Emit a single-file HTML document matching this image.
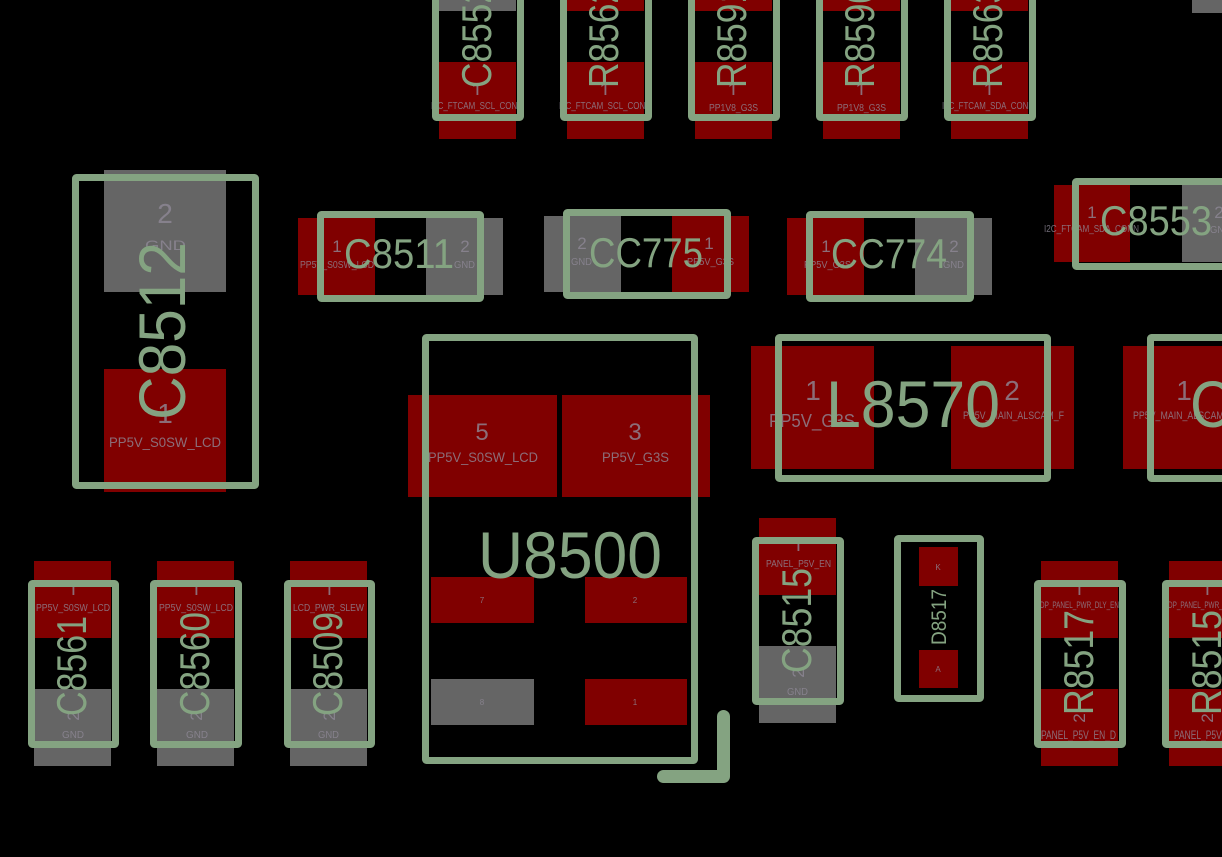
<!DOCTYPE html>
<html lang="en">
<head>
<meta charset="utf-8">
<title>PCB layout</title>
<style>
html,body{margin:0;padding:0;background:#000;width:1222px;height:857px;overflow:hidden}
svg{display:block;font-family:"Liberation Sans",sans-serif}
.r{fill:#800000;shape-rendering:crispEdges}
.g{fill:#656565;shape-rendering:crispEdges}
.o{fill:none;stroke:#84a381;stroke-width:7;stroke-linejoin:round}
.b{fill:#84a381}
.n{fill:#8f8896;fill-opacity:.8;text-anchor:middle}
.l{fill:#8f8896;fill-opacity:.8}
.s40{font-size:42px}.s66{font-size:66px}
</style>
</head>
<body>
<svg width="1222" height="857" viewBox="0 0 1222 857" xmlns="http://www.w3.org/2000/svg">
<defs>
<clipPath id="tick" clipPathUnits="userSpaceOnUse">
<rect x="0" y="70" width="1222" height="25"/>
<rect x="0" y="543" width="1222" height="8"/>
<rect x="0" y="587" width="1222" height="8"/>
</clipPath>
</defs>
<rect width="1222" height="857" fill="#000"/>

<!-- Pads -->
<rect class="g" x="439" y="-30" width="77" height="41"/><rect class="r" x="439" y="62" width="77" height="77"/>
<rect class="r" x="567" y="-30" width="77" height="41"/><rect class="r" x="567" y="62" width="77" height="77"/>
<rect class="r" x="695" y="-30" width="77" height="41"/><rect class="r" x="695" y="62" width="77" height="77"/>
<rect class="r" x="823" y="-30" width="77" height="41"/><rect class="r" x="823" y="62" width="77" height="77"/>
<rect class="r" x="951" y="-30" width="77" height="41"/><rect class="r" x="951" y="62" width="77" height="77"/>
<rect class="g" x="1192" y="0" width="30" height="13"/>

<rect class="g" x="104" y="170" width="122" height="122"/><rect class="r" x="104" y="369" width="122" height="123"/>

<rect class="r" x="298" y="218" width="77" height="77"/><rect class="g" x="426" y="218" width="77" height="77"/>
<rect class="g" x="544" y="216" width="77" height="76"/><rect class="r" x="672" y="216" width="77" height="76"/>
<rect class="r" x="787" y="218" width="77" height="77"/><rect class="g" x="915" y="218" width="77" height="77"/>
<rect class="r" x="1054" y="185" width="76" height="77"/><rect class="g" x="1182" y="185" width="40" height="77"/>

<rect class="r" x="408" y="395" width="149" height="102"/><rect class="r" x="562" y="395" width="148" height="102"/>
<rect class="r" x="431" y="577" width="103" height="46"/><rect class="r" x="585" y="577" width="102" height="46"/>
<rect class="g" x="431" y="679" width="103" height="46"/><rect class="r" x="585" y="679" width="102" height="46"/>

<rect class="r" x="751" y="346" width="123" height="123"/><rect class="r" x="951" y="346" width="123" height="123"/>
<rect class="r" x="1123" y="346" width="123" height="123"/>

<rect class="r" x="34" y="561" width="77" height="77"/><rect class="g" x="34" y="689" width="77" height="77"/>
<rect class="r" x="157" y="561" width="77" height="77"/><rect class="g" x="157" y="689" width="77" height="77"/>
<rect class="r" x="290" y="561" width="77" height="77"/><rect class="g" x="290" y="689" width="77" height="77"/>
<rect class="r" x="759" y="518" width="77" height="77"/><rect class="g" x="759" y="646" width="77" height="77"/>
<rect class="r" x="919" y="547" width="39" height="39"/><rect class="r" x="919" y="650" width="39" height="38"/>
<rect class="r" x="1041" y="561" width="77" height="77"/><rect class="r" x="1041" y="689" width="77" height="77"/>
<rect class="r" x="1169" y="561" width="77" height="77"/><rect class="r" x="1169" y="689" width="77" height="77"/>

<!-- Pad labels -->
<g font-size="10">
<text class="l" x="431" y="109" textLength="92" lengthAdjust="spacingAndGlyphs">I2C_FTCAM_SCL_CONN</text>
<text class="l" x="559" y="109" textLength="92" lengthAdjust="spacingAndGlyphs">I2C_FTCAM_SCL_CONN</text>
<text class="l" x="709" y="111" textLength="49" lengthAdjust="spacingAndGlyphs">PP1V8_G3S</text>
<text class="l" x="837" y="111" textLength="49" lengthAdjust="spacingAndGlyphs">PP1V8_G3S</text>
<text class="l" x="942" y="109" textLength="92" lengthAdjust="spacingAndGlyphs">I2C_FTCAM_SDA_CONN</text>
<text class="l" x="300" y="268" textLength="74" lengthAdjust="spacingAndGlyphs">PP5V_S0SW_LCD</text>
<text class="l" x="454" y="268" textLength="21" lengthAdjust="spacingAndGlyphs">GND</text>
<text class="l" x="571" y="265" textLength="21" lengthAdjust="spacingAndGlyphs">GND</text>
<text class="l" x="687" y="265" textLength="47" lengthAdjust="spacingAndGlyphs">PP5V_G3S</text>
<text class="l" x="804" y="268" textLength="47" lengthAdjust="spacingAndGlyphs">PP5V_G3S</text>
<text class="l" x="943" y="268" textLength="21" lengthAdjust="spacingAndGlyphs">GND</text>
<text class="l" x="1044" y="232" textLength="95" lengthAdjust="spacingAndGlyphs">I2C_FTCAM_SDA_CONN</text>
<text class="l" x="1210" y="233" textLength="21" lengthAdjust="spacingAndGlyphs">GND</text>
<text class="l" x="36" y="611" textLength="74" lengthAdjust="spacingAndGlyphs">PP5V_S0SW_LCD</text>
<text class="l" x="62" y="738" textLength="22" lengthAdjust="spacingAndGlyphs">GND</text>
<text class="l" x="159" y="611" textLength="74" lengthAdjust="spacingAndGlyphs">PP5V_S0SW_LCD</text>
<text class="l" x="186" y="738" textLength="22" lengthAdjust="spacingAndGlyphs">GND</text>
<text class="l" x="293" y="611" textLength="71" lengthAdjust="spacingAndGlyphs">LCD_PWR_SLEW</text>
<text class="l" x="318" y="738" textLength="21" lengthAdjust="spacingAndGlyphs">GND</text>
<text class="l" x="766" y="567" textLength="65" lengthAdjust="spacingAndGlyphs">PANEL_P5V_EN</text>
<text class="l" x="787" y="695" textLength="21" lengthAdjust="spacingAndGlyphs">GND</text>
<text class="l" x="1040" y="608" font-size="9" textLength="79" lengthAdjust="spacingAndGlyphs">DP_PANEL_PWR_DLY_EN</text>
<text class="l" x="1168" y="608" font-size="9" textLength="79" lengthAdjust="spacingAndGlyphs">DP_PANEL_PWR_DLY_EN</text>
<text class="l" x="1041" y="739" font-size="12" textLength="75" lengthAdjust="spacingAndGlyphs">PANEL_P5V_EN_D</text>
<text class="l" x="1174" y="739" font-size="12" textLength="75" lengthAdjust="spacingAndGlyphs">PANEL_P5V_EN_D</text>
<text class="l" x="963" y="419" font-size="11" textLength="101" lengthAdjust="spacingAndGlyphs">PP5V_MAIN_ALSCAM_F</text>
<text class="l" x="1133" y="419" font-size="11" textLength="101" lengthAdjust="spacingAndGlyphs">PP5V_MAIN_ALSCAM_F</text>
</g>
<g font-size="14">
<text class="l" x="109" y="447" textLength="112" lengthAdjust="spacingAndGlyphs">PP5V_S0SW_LCD</text>
<text class="l" x="145" y="250" textLength="41" lengthAdjust="spacingAndGlyphs">GND</text>
<text class="l" x="428" y="462" textLength="110" lengthAdjust="spacingAndGlyphs">PP5V_S0SW_LCD</text>
<text class="l" x="602" y="462" textLength="67" lengthAdjust="spacingAndGlyphs">PP5V_G3S</text>
</g>
<text class="l" x="769" y="427" font-size="18" textLength="86" lengthAdjust="spacingAndGlyphs">PP5V_G3S</text>

<!-- Pad numbers -->
<g font-size="20" clip-path="url(#tick)">
<text class="n" x="477" y="97">1</text><text class="n" x="605" y="97">1</text>
<text class="n" x="733" y="97">1</text><text class="n" x="861" y="97">1</text><text class="n" x="989" y="97">1</text>
<text class="n" x="73" y="597">1</text><text class="n" x="196" y="597">1</text><text class="n" x="329" y="597">1</text>
<text class="n" x="798" y="553">1</text><text class="n" x="1079" y="597">1</text><text class="n" x="1207" y="597">1</text>
</g>
<g font-size="17">
<text class="n" x="337" y="252">1</text><text class="n" x="465" y="252">2</text>
<text class="n" x="582" y="249">2</text><text class="n" x="709" y="249">1</text>
<text class="n" x="826" y="252">1</text><text class="n" x="954" y="252">2</text>
<text class="n" x="1092" y="218">1</text><text class="n" x="1219" y="218">2</text>
<text class="n" transform="translate(79,716) rotate(-90)">2</text>
<text class="n" transform="translate(202,716) rotate(-90)">2</text>
<text class="n" transform="translate(335,716) rotate(-90)">2</text>
<text class="n" transform="translate(804,673) rotate(-90)">2</text>
<text class="n" transform="translate(1085,718) rotate(-90)">2</text>
<text class="n" transform="translate(1213,718) rotate(-90)">2</text>
</g>
<g font-size="28">
<text class="n" x="165" y="223">2</text><text class="n" x="165" y="423">1</text>
<text class="n" x="813" y="400">1</text><text class="n" x="1012" y="400">2</text><text class="n" x="1184" y="400">1</text>
</g>
<g font-size="24">
<text class="n" x="482" y="440">5</text><text class="n" x="635" y="440">3</text>
</g>
<g font-size="8">
<text class="n" x="482" y="603">7</text><text class="n" x="635" y="603">2</text>
<text class="n" x="482" y="705">8</text><text class="n" x="635" y="705">1</text>
<text class="n" x="938" y="570">K</text><text class="n" x="938" y="672">A</text>
</g>

<!-- Outlines -->
<rect class="o" x="435.5" y="-40" width="85" height="157.5" rx="1"/>
<rect class="o" x="563.5" y="-40" width="85" height="157.5" rx="1"/>
<rect class="o" x="691.5" y="-40" width="85" height="157.5" rx="1"/>
<rect class="o" x="819.5" y="-40" width="85" height="157.5" rx="1"/>
<rect class="o" x="947.5" y="-40" width="85" height="157.5" rx="1"/>
<rect class="o" x="75.5" y="177.5" width="180" height="308" rx="1"/>
<rect class="o" x="320.5" y="214.5" width="160" height="84" rx="1"/>
<rect class="o" x="566.5" y="212.5" width="161" height="83" rx="1"/>
<rect class="o" x="809.5" y="214.5" width="161" height="84" rx="1"/>
<rect class="o" x="1075.5" y="181.5" width="220" height="85" rx="1"/>
<rect class="o" x="425.5" y="337.5" width="269" height="423" rx="1"/>
<rect class="o" x="778.5" y="337.5" width="269" height="141" rx="1"/>
<rect class="o" x="1150.5" y="337.5" width="200" height="141" rx="1"/>
<rect class="o" x="31.5" y="583.5" width="84" height="161" rx="1"/>
<rect class="o" x="153.5" y="583.5" width="85" height="161" rx="1"/>
<rect class="o" x="287.5" y="583.5" width="84" height="161" rx="1"/>
<rect class="o" x="755.5" y="540.5" width="85" height="161" rx="1"/>
<rect class="o" x="897.5" y="538.5" width="83" height="160" rx="1"/>
<rect class="o" x="1037.5" y="583.5" width="85" height="161" rx="1"/>
<rect class="o" x="1165.5" y="583.5" width="85" height="161" rx="1"/>
<polyline points="723.5,716.5 723.5,776.5 663.5,776.5" fill="none" stroke="#84a381" stroke-width="13" stroke-linecap="round" stroke-linejoin="round"/>

<!-- Reference designators -->
<g class="b">
<text class="s66" x="826" y="427" textLength="174" lengthAdjust="spacingAndGlyphs">L8570</text>
<text class="s66" x="1190" y="427" textLength="174" lengthAdjust="spacingAndGlyphs">C8570</text>
<text class="s66" x="478" y="578" textLength="184" lengthAdjust="spacingAndGlyphs">U8500</text>
<text class="s66" transform="translate(185,420) rotate(-90)" textLength="178" lengthAdjust="spacingAndGlyphs">C8512</text>
<text class="s40" x="344" y="268" textLength="110" lengthAdjust="spacingAndGlyphs">C8511</text>
<text class="s40" x="589" y="267" textLength="114" lengthAdjust="spacingAndGlyphs">CC775</text>
<text class="s40" x="831" y="268" textLength="116" lengthAdjust="spacingAndGlyphs">CC774</text>
<text class="s40" x="1100" y="235" textLength="112" lengthAdjust="spacingAndGlyphs">C8553</text>
<text class="s40" transform="translate(491,88) rotate(-90)" textLength="104" lengthAdjust="spacingAndGlyphs">C8552</text>
<text class="s40" transform="translate(618,88) rotate(-90)" textLength="104" lengthAdjust="spacingAndGlyphs">R8562</text>
<text class="s40" transform="translate(746,88) rotate(-90)" textLength="104" lengthAdjust="spacingAndGlyphs">R8591</text>
<text class="s40" transform="translate(874,88) rotate(-90)" textLength="104" lengthAdjust="spacingAndGlyphs">R8590</text>
<text class="s40" transform="translate(1002,88) rotate(-90)" textLength="104" lengthAdjust="spacingAndGlyphs">R8563</text>
<text class="s40" transform="translate(86,716) rotate(-90)" textLength="100" lengthAdjust="spacingAndGlyphs">C8561</text>
<text class="s40" transform="translate(209,716) rotate(-90)" textLength="104" lengthAdjust="spacingAndGlyphs">C8560</text>
<text class="s40" transform="translate(342,716) rotate(-90)" textLength="104" lengthAdjust="spacingAndGlyphs">C8509</text>
<text class="s40" transform="translate(811,673) rotate(-90)" textLength="105" lengthAdjust="spacingAndGlyphs">C8515</text>
<text class="s40" transform="translate(1093,715) rotate(-90)" textLength="105" lengthAdjust="spacingAndGlyphs">R8517</text>
<text class="s40" transform="translate(1221,715) rotate(-90)" textLength="105" lengthAdjust="spacingAndGlyphs">R8515</text>
<text font-size="21" transform="translate(946,645) rotate(-90)" textLength="56" lengthAdjust="spacingAndGlyphs">D8517</text>
</g>
</svg>
</body>
</html>
